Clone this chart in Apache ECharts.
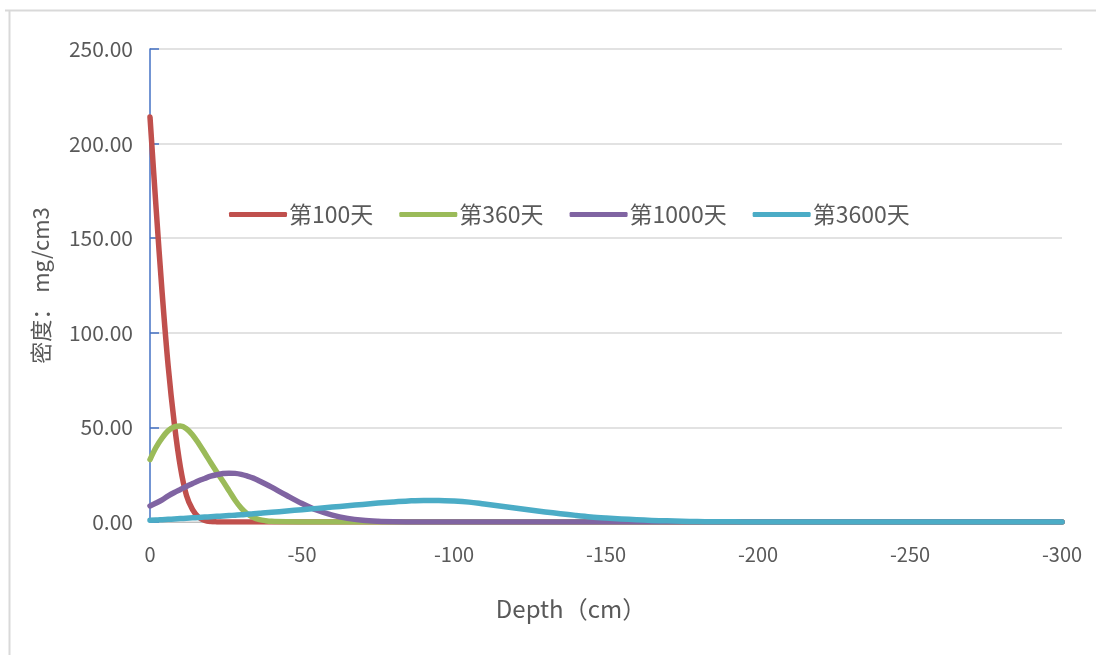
<!DOCTYPE html>
<html>
<head>
<meta charset="utf-8">
<script src="https://cdn.jsdelivr.net/npm/echarts@6/dist/echarts.min.js"></script>
<style>html,body{margin:0;padding:0;background:#fff;}#c{width:1096px;height:655px;}</style>
</head>
<body>
<div id="c"></div>
<script>
const depths = [0,2,4,6,8,10,12,14,16,18,20,22,24,26,28,30,32,34,36,38,40,
  45,50,55,60,65,70,75,80,85,90,95,100,105,110,115,120,125,130,135,140,145,150,155,160,165,170,175,180,185,190,195,200,
  205,210,215,220,225,230,235,240,245,250,255,260,265,270,275,280,285,290,295,300];
const seriesNames = ['第100天','第360天','第1000天','第3600天'];
const day100 = [214,166,121,82,52,29,14,6.5,2.5,0.8,0.2,0.05,0,0,0,0,0,0,0,0,0,
  0,0,0,0,0,0,0,0,0,0,0,0,0,0,0,0,0,0,0,0,0,0,0,0,0,0,0,0,0,0,0,0,
  0,0,0,0,0,0,0,0,0,0,0,0,0,0,0,0,0,0,0,0];
const day360 = [33,39.5,44.5,48.3,50.3,50.7,49.3,46,41.5,36.5,31.3,26.3,21.5,16.5,11.5,7.3,4.3,2.4,1.3,0.7,0.35,
  0.1,0.03,0,0,0,0,0,0,0,0,0,0,0,0,0,0,0,0,0,0,0,0,0,0,0,0,0,0,0,0,0,0,
  0,0,0,0,0,0,0,0,0,0,0,0,0,0,0,0,0,0,0,0];
const day1000 = [8.5,10,11.7,13.8,15.6,17.2,18.8,20.3,21.8,23,24.2,25,25.6,25.8,25.7,25.2,24.3,23.2,21.7,20.1,18.4,
  14,9.8,6.2,3.6,1.9,0.9,0.4,0.15,0.05,0,0,0,0,0,0,0,0,0,0,0,0,0,0,0,0,0,0,0,0,0,0,0,
  0,0,0,0,0,0,0,0,0,0,0,0,0,0,0,0,0,0,0,0];
const day3600 = [0.9,1.0,1.2,1.4,1.6,1.8,2.0,2.2,2.4,2.6,2.8,3.0,3.2,3.4,3.6,3.8,4.1,4.4,4.6,4.9,5.1,
  5.8,6.5,7.2,7.9,8.6,9.3,10,10.6,11.1,11.4,11.4,11.1,10.5,9.5,8.5,7.4,6.3,5.3,4.4,3.5,2.7,2.1,1.6,1.2,0.85,0.6,0.4,0.25,0.15,0.1,0.06,0.03,
  0.01,0,0,0,0,0,0,0,0,0,0,0,0,0,0,0,0,0,0,0];
const colors = ['#C0504D','#9BBB59','#8064A2','#4BACC6'];
const allValues = [day100, day360, day1000, day3600];
const FONT = '"Noto Sans CJK SC", "Noto Sans", sans-serif';

const chart = echarts.init(document.getElementById('c'));
chart.setOption({
  animation: false,
  backgroundColor: '#fff',
  graphic: [
    {type:'line', shape:{x1:5,y1:10.5,x2:1096,y2:10.5}, style:{stroke:'#d9d9d9', lineWidth:2}},
    {type:'line', shape:{x1:9.5,y1:10,x2:9.5,y2:655}, style:{stroke:'#d9d9d9', lineWidth:2}}
  ],
  grid: {left:150, right:34, top:49, bottom:133, containLabel:false},
  legend: {
    left: 224, top: 198,
    icon: 'roundRect', itemWidth: 58, itemHeight: 5, itemGap: 26,
    textStyle: {fontSize: 23, color: '#595959', fontFamily: FONT, padding:[0,0,0,-3]},
    data: seriesNames
  },
  xAxis: {
    type: 'value', min: -300, max: 0, interval: 50, inverse: true,
    name: 'Depth（cm）', nameLocation: 'middle', nameGap: 75,
    nameTextStyle: {fontSize: 24, color: '#595959', fontFamily: FONT, padding:[0,70,0,0]},
    axisLine: {show: true, lineStyle: {color: '#bfbfbf', width: 1}},
    axisTick: {show: false},
    axisLabel: {fontSize: 20, color: '#595959', fontFamily: FONT, margin: 22},
    splitLine: {show: false}
  },
  yAxis: {
    type: 'value', min: 0, max: 250, interval: 50,
    name: '密度： mg/cm3', nameLocation: 'middle', nameGap: 98, nameRotate: 90,
    nameTextStyle: {fontSize: 22, color: '#595959', fontFamily: FONT},
    axisLine: {show: true, lineStyle: {color: '#4472C4', width: 1.5}},
    axisTick: {show: true, inside: true, length: 9, lineStyle: {color: '#4472C4', width: 1.5}},
    axisLabel: {fontSize: 21, color: '#595959', fontFamily: FONT, margin: 17,
      formatter: v => v.toFixed(2)},
    splitLine: {show: true, lineStyle: {color: '#d9d9d9', width: 1.5}}
  },
  series: seriesNames.map((n, i) => ({
    name: n, type: 'line', smooth: 0.35, showSymbol: false, symbol: 'none',
    color: colors[i],
    lineStyle: {width: 5.5, color: colors[i], cap: 'round', join: 'round'},
    data: depths.map((d, k) => [-d, allValues[i][k]])
  }))
});
</script>
</body>
</html>
